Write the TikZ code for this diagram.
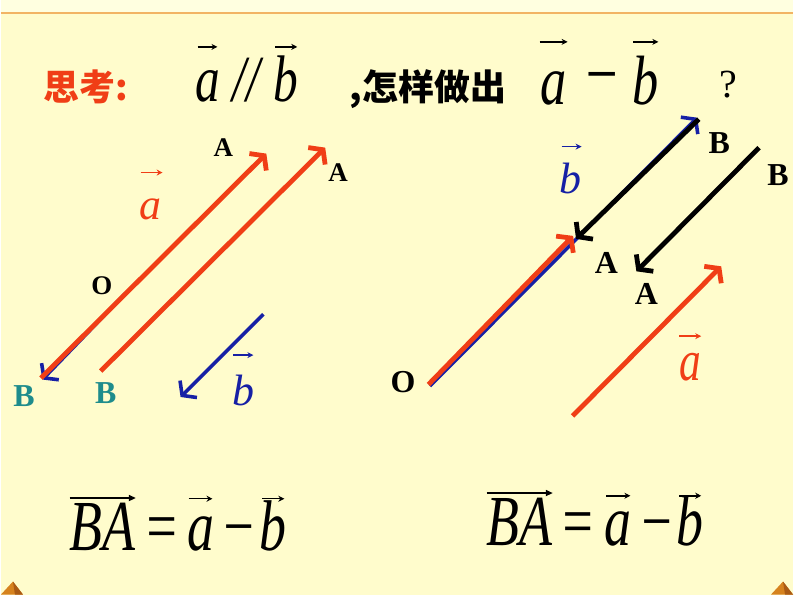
\documentclass[tikz,border=0pt]{standalone}
\usepackage{fontspec}
\setmainfont{Liberation Serif}
\newfontfamily\cjk{Noto Sans CJK SC}
\newfontface\narrowit[FakeStretch=0.75]{Liberation Serif Italic}
\usetikzlibrary{arrows.meta}
\definecolor{paper}{RGB}{255,252,204}
\definecolor{band}{RGB}{255,255,224}
\definecolor{rim}{RGB}{242,180,100}
\definecolor{vred}{RGB}{240,62,22}
\definecolor{vblue}{RGB}{22,32,165}
\definecolor{labteal}{RGB}{30,140,140}
\definecolor{pyr}{RGB}{214,130,30}
\definecolor{pyrdark}{RGB}{170,90,20}
\begin{document}
\begin{tikzpicture}[x=1pt, y=-1pt,
    pt/.style = {font=\bfseries\fontsize{27}{27}\selectfont, inner sep=0pt},
    bpt/.style = {font=\bfseries\fontsize{32}{32}\selectfont, inner sep=0pt},
    vecr/.style = {draw=vred, line width=4.8pt, -{Straight Barb[length=9pt,width=24pt]}},
    vecb/.style = {vecr, draw=vblue, line width=3.6pt},
    veck/.style = {vecr, draw=black},
    lett/.style = {font=\itshape\fontsize{44}{44}\selectfont, inner sep=0pt},
    hat/.style = {line width=1.5pt, -{Stealth[length=6pt,width=6pt]}},
    big/.style = {font=\narrowit\fontsize{66}{66}\selectfont, inner sep=0pt, anchor=base},
    form/.style = {font=\narrowit\fontsize{72}{72}\selectfont, inner sep=0pt, anchor=base},
    longhat/.style = {line width=1.6pt, -{Triangle[length=7pt,width=6pt]}},
    han/.style = {font=\cjk\bfseries\fontsize{36}{36}\selectfont, inner sep=0pt}]

  % paper
  \fill[paper] (0,0) rectangle (794,596);
  \fill[band] (0,0) rectangle (794,12);
  \draw[rim, line width=2pt] (0,13) -- (794,13);
  \fill[pyr] (0,596) -- (12,583) -- (22,596) -- cycle;
  \fill[pyrdark] (12,583) -- (22,596) -- (14,596) -- cycle;
  \fill[pyr] (772,596) -- (784,583) -- (794,596) -- cycle;
  \fill[pyrdark] (784,583) -- (794,596) -- (786,596) -- cycle;

  % title
  \node[han, text=vred] (think) at (85,87) {思考:};
  \node[big] (ta) at (207,102) {a};
  \node[big] (par) at (246,102) {//};
  \node[big] (tb) at (286,102) {b};
  \draw[hat] ([shift={(-10,-55)}]ta.base) -- ([shift={(10,-55)}]ta.base);
  \draw[hat] ([shift={(-11,-55)}]tb.base) -- ([shift={(11,-55)}]tb.base);
  \node[han] (how) at (428,89) {,怎样做出};
  \node[big, font=\narrowit\fontsize{70}{70}\selectfont] (da) at (554,105) {a};
  \node[big, font=\narrowit\fontsize{76}{70}\selectfont, anchor=center] (dm) at (602,86) {−};
  \node[big, font=\narrowit\fontsize{70}{70}\selectfont] (db) at (646,105) {b};
  \draw[hat] ([shift={(-14,-63)}]da.base) -- ([shift={(14,-63)}]da.base);
  \draw[hat] ([shift={(-12,-63)}]db.base) -- ([shift={(13,-63)}]db.base);
  \node[font=\fontsize{40}{40}\selectfont, inner sep=0pt] (ask) at (729,85) {?};

  % left: a and b put tail to tail
  \coordinate (O1) at (123,293);
  \coordinate (B1) at (40,379);
  \coordinate (A1) at (266,154);
  \coordinate (C1) at (100,372);
  \coordinate (D1) at (325,148);
  \coordinate (E1) at (263,315);
  \coordinate (F1) at (180,398);
  \draw[vecb] ([shift={(1.5,1.5)}]O1) -- ([shift={(1.5,1.5)}]B1);
  \draw[vecr] (B1) -- (A1);
  \draw[vecr] (C1) -- (D1);
  \draw[vecb] (E1) -- (F1);

  \node[pt] (lA1) at (223,148) {A};
  \node[pt] (lA2) at (338,173) {A};
  \node[pt] (lO) at (101,286) {O};
  \node[bpt, text=labteal] (lB1) at (23,397) {B};
  \node[bpt, text=labteal] (lB2) at (105,394) {B};
  \node[lett, text=vred] (la) at (150,210) {a};
  \draw[hat, vred] ([shift={(-10,-37)}]la.center) -- ([shift={(12,-37)}]la.center);
  \node[lett, text=vblue] (lb) at (243,391) {b};
  \draw[hat, vblue] ([shift={(-10,-35)}]lb.center) -- ([shift={(10,-35)}]lb.center);

  % right: a and b put tail to tail
  \coordinate (O2) at (430,387);
  \coordinate (A2) at (575,238);
  \coordinate (B2) at (698,118);
  \coordinate (C2) at (760,148);
  \coordinate (D2) at (637,272);
  \coordinate (E2) at (573,417);
  \coordinate (F2) at (722,267);
  \draw[vecb] (O2) -- (B2);
  \draw[vecr] ([shift={(-1.5,-1.5)}]O2) -- ([shift={(-1.5,-1.5)}]A2);
  \draw[veck] ([shift={(1.5,1.5)}]B2) -- ([shift={(1.5,1.5)}]A2);
  \draw[veck] (C2) -- (D2);
  \draw[vecr] (E2) -- (F2);

  \node[bpt] (rB1) at (720,143) {B};
  \node[bpt] (rB2) at (779,176) {B};
  \node[bpt] (rA1) at (607,264) {A};
  \node[bpt] (rA2) at (647,295) {A};
  \node[bpt] (rO) at (403,383) {O};
  \node[lett, text=vblue] (rb) at (571,179) {b};
  \draw[hat, vblue] ([shift={(-9,-32)}]rb.center) -- ([shift={(11,-32)}]rb.center);
  \node[lett, font=\narrowit\fontsize{58}{58}\selectfont, text=vred] (ra) at (691,368) {a};
  \draw[hat, vred] ([shift={(-11,-31)}]ra.center) -- ([shift={(11,-31)}]ra.center);

  % answers
  \node[form] (fBA1) at (102,552) {BA};
  \node[form] (feq1) at (161,552) {=};
  \node[form] (fa1) at (200,552) {a};
  \node[form] (fm1) at (238,552) {−};
  \node[form] (fb1) at (273,552) {b};
  \draw[longhat] ([yshift=5pt]fBA1.north west) -- ([yshift=5pt]fBA1.north east);
  \draw[hat] ([shift={(-12,-52)}]fa1.base) -- ([shift={(12,-52)}]fa1.base);
  \draw[hat] ([shift={(-11,-52)}]fb1.base) -- ([shift={(11,-52)}]fb1.base);

  \node[form] (fBA2) at (520,547) {BA};
  \node[form] (feq2) at (578,547) {=};
  \node[form] (fa2) at (619,547) {a};
  \node[form] (fm2) at (657,547) {−};
  \node[form] (fb2) at (691,547) {b};
  \draw[longhat] ([yshift=5pt]fBA2.north west) -- ([yshift=5pt]fBA2.north east);
  \draw[hat] ([shift={(-12,-50)}]fa2.base) -- ([shift={(12,-50)}]fa2.base);
  \draw[hat] ([shift={(-11,-50)}]fb2.base) -- ([shift={(11,-50)}]fb2.base);
\end{tikzpicture}
\end{document}
